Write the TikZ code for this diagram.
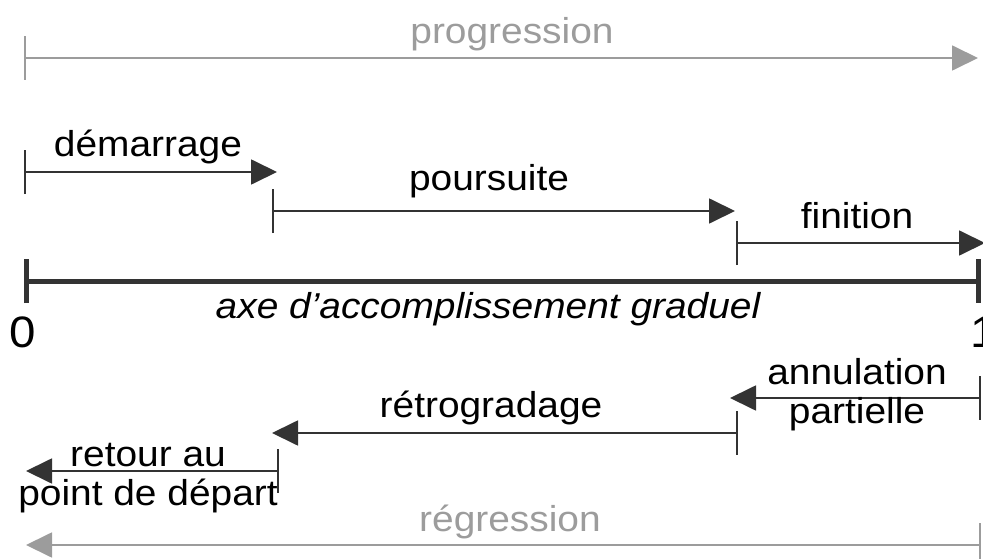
\documentclass[tikz,border=0pt]{standalone}
\usepackage{fontspec}
\setmainfont{Liberation Sans}[FakeStretch=1.08]
\usetikzlibrary{arrows.meta}
\definecolor{trait}{HTML}{333333}
\definecolor{gris}{HTML}{9C9C9C}
\tikzset{
  etape/.style={draw=trait, line width=1.8pt, {Bar[width=44pt]}-{Triangle[length=26pt,width=25pt]}},
  global/.style={draw=gris, line width=1.8pt, {Bar[width=44pt]}-{Triangle[length=26pt,width=25pt]}},
  axe/.style={draw=trait, line width=5pt, {Bar[width=44pt]}-{Bar[width=44pt]}},
  mot/.style={inner sep=0pt, anchor=base, align=center, font=\fontsize{36}{39}\selectfont},
  chiffre/.style={inner sep=0pt, anchor=base, font=\fontsize{44}{48}\selectfont}
}
\begin{document}
\begin{tikzpicture}[x=1pt, y=-1pt]
    \useasboundingbox (0,0) rectangle (983,559);
    % fleches grises
    \coordinate (pro-a) at (24,58);
    \coordinate (pro-b) at (978,58);
    \coordinate (reg-a) at (981,545);
    \coordinate (reg-b) at (26,545);
    \draw[global] (pro-a) -- (pro-b);
    \draw[global] (reg-a) -- (reg-b);
    \node[mot, text=gris] (progression) at (512,44) {progression};
    \node[mot, text=gris] (regression) at (510,531) {régression};
    % etapes
    \foreach \nom/\xa/\xb/\y in {dem/24/277/172, pou/272/735/211, fin/736/985/243,
                                 ann/981/730/398, ret/738/272/433, dep/279/26/471}
    {
        \coordinate (\nom-a) at (\xa,\y);
        \coordinate (\nom-b) at (\xb,\y);
        \draw[etape] (\nom-a) -- (\nom-b);
    }
    \node[mot] (demarrage) at (148,157) {démarrage};
    \node[mot] (poursuite) at (489,190) {poursuite};
    \node[mot] (finition) at (857,229) {finition};
    \node[mot] (annulation) at (857,423) {annulation\\partielle};
    \node[mot] (retrogradage) at (491,417) {rétrogradage};
    \node[mot] (retour) at (148,505) {retour au\\point de départ};
    % axe
    \coordinate (zero) at (24,281);
    \coordinate (un) at (981,281);
    \draw[axe] (zero) -- (un);
    \node[mot, font=\fontsize{36}{39}\selectfont\itshape] (titre) at (488,318) {axe d’accomplissement graduel};
    \node[chiffre] (n0) at (23,347) {0};
    \node[chiffre] (n1) at (984,347) {1};
\end{tikzpicture}
\end{document}
